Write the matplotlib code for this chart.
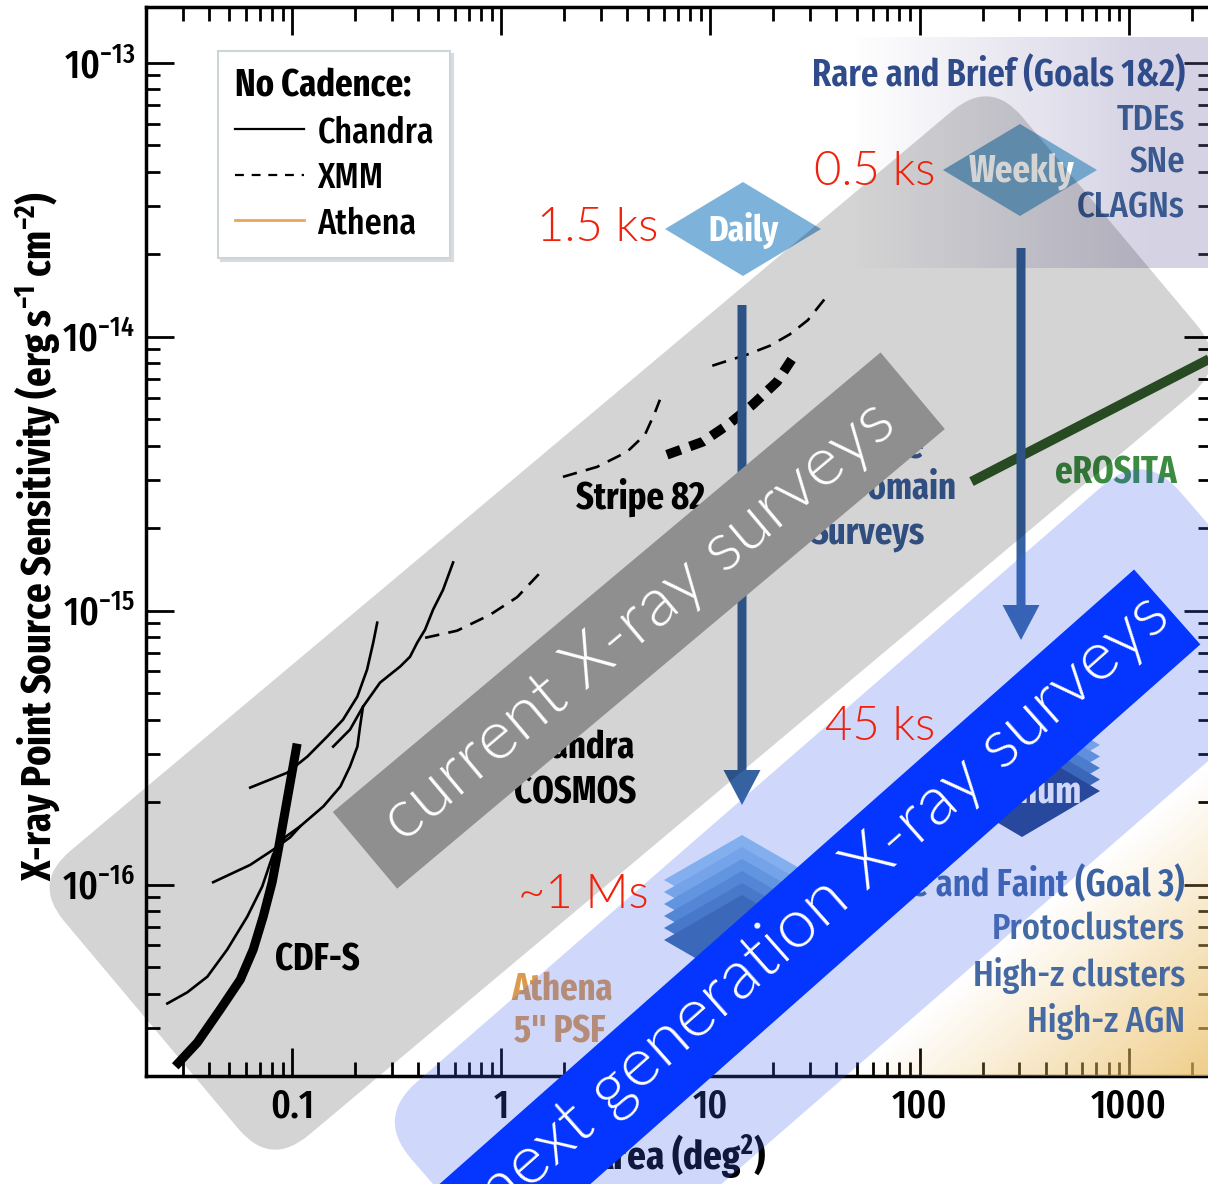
import numpy as np
import matplotlib
matplotlib.use('Agg')
import matplotlib.pyplot as plt
from matplotlib.patches import FancyBboxPatch, Polygon
from matplotlib.lines import Line2D
from matplotlib.transforms import Affine2D

COND = ['Fira Sans Extra Condensed', 'DejaVu Sans']
LIGHT = ['Lato', 'DejaVu Sans']

plt.rcParams['font.family'] = COND
plt.rcParams['mathtext.fontset'] = 'custom'
plt.rcParams['mathtext.rm'] = 'Fira Sans Extra Condensed:medium'
plt.rcParams['mathtext.it'] = 'Fira Sans Extra Condensed:italic:medium'
plt.rcParams['mathtext.bf'] = 'Fira Sans Extra Condensed:bold'

# ---- survey curves (area in deg^2, flux limit in erg/s/cm^2) ----
chandra_1_area = [0.0253, 0.0315, 0.0393, 0.0489, 0.0610, 0.0719, 0.0811, 0.0926, 0.109, 0.141, 0.170,
                  0.189, 0.205, 0.211, 0.218, 0.263, 0.328, 0.366, 0.396, 0.432, 0.472, 0.526, 0.588]
chandra_1_flux = [3.68e-17, 4.04e-17, 4.61e-17, 5.79e-17, 7.64e-17, 9.84e-17, 1.29e-16, 1.49e-16, 1.63e-16,
                  1.93e-16, 2.28e-16, 2.70e-16, 3.19e-16, 3.77e-16, 4.46e-16, 5.46e-16, 6.25e-16, 6.79e-16,
                  7.64e-16, 8.53e-16, 1.01e-15, 1.19e-15, 1.50e-15]
chandra_2_area = [0.0419, 0.063, 0.0811, 0.098, 0.109]
chandra_2_flux = [1.02e-16, 1.18e-16, 1.34e-16, 1.49e-16, 1.63e-16]
chandra_3_area = [0.063, 0.0946, 0.118, 0.147, 0.175, 0.205, 0.228, 0.244, 0.255]
chandra_3_flux = [2.26e-16, 2.56e-16, 2.93e-16, 3.47e-16, 4.00e-16, 4.86e-16, 6.09e-16, 7.64e-16, 9.04e-16]
chandra_4_area = [0.157, 0.189, 0.218]
chandra_4_flux = [3.19e-16, 3.68e-16, 4.46e-16]
cdfs_area = [0.0276, 0.0352, 0.0453, 0.0565, 0.0651, 0.0727, 0.0802, 0.0858, 0.0946, 0.1056]
cdfs_flux = [2.17e-17, 2.65e-17, 3.50e-17, 4.50e-17, 5.79e-17, 7.64e-17, 1.02e-16, 1.34e-16, 2.04e-16, 3.27e-16]

xmm_1_area = [0.432, 0.614, 0.883, 1.19, 1.58]
xmm_1_flux = [7.96e-16, 8.45e-16, 9.66e-16, 1.12e-15, 1.41e-15]
xmm_2_area = [1.97, 2.87, 3.99, 4.86, 5.42, 5.73]
xmm_2_flux = [3.08e-15, 3.35e-15, 3.80e-15, 4.39e-15, 5.28e-15, 5.89e-15]
xmm_3_area = [10.2, 11.7, 14.9, 19.2, 23.9, 29.2, 37.2]
xmm_3_flux = [7.84e-15, 8.11e-15, 8.60e-15, 9.27e-15, 1.02e-14, 1.15e-14, 1.45e-14]
stripe82_area = [6.19, 9.20, 12.1, 15.9, 20.8, 25.3]
stripe82_flux = [3.71e-15, 4.14e-15, 4.77e-15, 5.65e-15, 6.85e-15, 8.60e-15]

erosita_area = [177, 2500]
erosita_flux = [2.96e-15, 8.4e-15]

x_ticks = [0.1, 1, 10, 100, 1000]
x_tick_labels = ['0.1', '1', '10', '100', '1000']
y_ticks = [1e-16, 1e-15, 1e-14, 1e-13]
y_tick_labels = ['10$^{-16}$', '10$^{-15}$', '10$^{-14}$', '10$^{-13}$']

legend_labels = ['Chandra', 'XMM', 'Athena']

rare_brief = ['Rare and Brief (Goals 1&2)', 'TDEs', 'SNe', 'CLAGNs']
rare_faint = ['Rare and Faint (Goal 3)', 'Protoclusters', 'High-z clusters', 'High-z AGN']
exposures = ['1.5 ks', '0.5 ks', '45 ks', '~1 Ms']

W, H = 1208, 1184
fig = plt.figure(figsize=(W / 100, H / 100), dpi=100)
ax = fig.add_axes([146 / W, 1 - 1076 / H, (1212 - 146) / W, (1076 - 7) / H])

ax.plot(cdfs_area, cdfs_flux, color='black', lw=6.5, solid_capstyle='butt')
for a, f in [(chandra_1_area, chandra_1_flux), (chandra_2_area, chandra_2_flux),
             (chandra_3_area, chandra_3_flux), (chandra_4_area, chandra_4_flux)]:
    ax.plot(a, f, color='black', lw=1.9)
for a, f in [(xmm_1_area, xmm_1_flux), (xmm_2_area, xmm_2_flux), (xmm_3_area, xmm_3_flux)]:
    ax.plot(a, f, color='black', lw=1.9, dashes=(5.5, 3.5), dash_capstyle='butt')
ax.plot(stripe82_area, stripe82_flux, color='black', lw=7, dashes=(1.5, 1.0), dash_capstyle='butt')
ax.plot(erosita_area, erosita_flux, color='#2f5a2b', lw=7, solid_capstyle='butt')

ax.set_xscale('log')
ax.set_yscale('log')
ax.set_xlim(0.02, 2500)
ax.set_ylim(2e-17, 1.6e-13)
ax.set_xticks(x_ticks, x_tick_labels, fontsize=29, fontweight='medium')
ax.set_yticks(y_ticks, y_tick_labels, fontsize=29, fontweight='medium')
ax.xaxis.set_minor_formatter(matplotlib.ticker.NullFormatter())
ax.yaxis.set_minor_formatter(matplotlib.ticker.NullFormatter())
ax.tick_params(which='both', direction='in', top=True, right=True, width=2)
ax.tick_params(which='major', length=20, pad=8)
ax.tick_params(which='minor', length=10)
for sp in ax.spines.values():
    sp.set_linewidth(2.5)

ax.set_xlabel('Area (deg$^{\\mathbf{2}}$)', fontsize=29, fontweight='bold')
ax.xaxis.set_label_coords(0.5, -0.052)
ax.set_ylabel('X-ray Point Source Sensitivity (erg s$^{\\mathbf{-1}}$ cm$^{\\mathbf{-2}}$)',
              fontsize=30, fontweight='bold')
ax.yaxis.set_label_coords(-0.079, 0.505)

handles = [Line2D([], [], color='black', lw=1.6),
           Line2D([], [], color='black', lw=1.6, dashes=(4, 3.5)),
           Line2D([], [], color='#e9a65c', lw=2)]
leg = ax.legend(handles, legend_labels, title='No Cadence:', loc='upper left',
                bbox_to_anchor=(218 / W, 1 - 51 / H), bbox_transform=fig.transFigure, borderaxespad=0,
                prop={'family': COND, 'weight': 'medium', 'size': 26.5},
                title_fontproperties={'family': COND, 'weight': 'bold', 'size': 27},
                alignment='left', handlelength=1.9, handletextpad=0.35, labelspacing=0.27,
                borderpad=0.45, frameon=True, fancybox=False, framealpha=1, edgecolor='#cdd5d9',
                shadow={'color': '#d8dcdf', 'alpha': 1})
leg.get_frame().set_linewidth(1.5)

# ---- overlay in figure pixels (y down) ----
ov = fig.add_axes([0, 0, 1, 1], zorder=3)
ov.axis('off')


def dn(d, n, ang):
    c, s = np.cos(np.radians(ang)), np.sin(np.radians(ang))
    return d * c + n * s, -d * s + n * c


def band(d0, d1, n0, n1, ang, r, **kw):
    tr = Affine2D().rotate_deg(-ang) + ov.transData
    style = 'round,pad=0,rounding_size=%g' % r if r else 'square,pad=0'
    ov.add_patch(FancyBboxPatch((d0, n0), d1 - d0, n1 - n0, boxstyle=style, transform=tr, **kw))


def diamond(cx, cy, hw, hh, color, z):
    ov.add_patch(Polygon([(cx - hw, cy), (cx, cy - hh), (cx + hw, cy), (cx, cy + hh)],
                         closed=True, facecolor=color, edgecolor='none', zorder=z))


# lavender box behind the "rare and brief" list
gx = np.linspace(800, 1212, 200)
lav = np.zeros((2, gx.size, 4))
lav[..., 0], lav[..., 1], lav[..., 2] = 0.45, 0.42, 0.65
lav[..., 3] = 0.30 * np.clip((gx - 850) / 300, 0, 1)
ov.imshow(lav, extent=(800, 1212, 268, 37), aspect='auto', zorder=1, interpolation='bilinear')

# yellow glow bottom right
yx, yy = np.meshgrid(np.linspace(600, 1212, 160), np.linspace(650, 1076, 120))
nn = 0.6561 * yx + 0.7547 * yy
yel = np.zeros(yx.shape + (4,))
yel[..., 0], yel[..., 1], yel[..., 2] = 0.92, 0.74, 0.38
yel[..., 3] = 0.72 * np.clip((nn - 1372) / 230, 0, 1)
ov.imshow(yel, extent=(600, 1212, 1076, 650), aspect='auto', zorder=1, interpolation='bilinear')

# cadence arrows
ov.arrow(742, 305, 0, 500, width=9, head_width=37, head_length=35, length_includes_head=True,
         color='#3563a2', lw=0, zorder=2)
ov.arrow(1021, 248, 0, 392, width=9, head_width=37, head_length=35, length_includes_head=True,
         color='#3563a2', lw=0, zorder=2)

diamond(743, 229, 78, 47, '#7db3db', 3)
diamond(1020, 170, 77, 46, '#74a6cc', 3)
ov.text(743, 230, 'Daily', color='white', fontsize=26, fontweight='bold', ha='center', va='center', zorder=4)
ov.text(1022, 172, 'Weekly', color='white', fontsize=27, fontweight='bold', ha='center', va='center', zorder=4)

deep_colors = ['#9cc8ee', '#86b8e6', '#6ea5da', '#5a92cc', '#4a7fbc', '#3b6aa6']
for i, c in enumerate(deep_colors):
    diamond(742, 880 + 12 * i, 78, 45, c, 3)
medium_colors = ['#86b6e4', '#6a9ed6', '#4f84c2', '#3a68a8', '#1f3f80']
for i, c in enumerate(medium_colors):
    diamond(1022, 745 + 11.5 * i, 78, 46, c, 3)
ov.text(1024, 792, 'Medium', color='white', fontsize=27, fontweight='bold', ha='center', va='center', zorder=4)

# labels of the original figure
lab = dict(fontsize=27, fontweight='bold', va='center', zorder=4)
ov.text(576, 497, 'Stripe 82', color='black', ha='left', **lab)
ov.text(575, 748, 'Chandra', color='black', ha='center', **lab)
ov.text(575, 793, 'COSMOS', color='black', ha='center', **lab)
ov.text(317, 960, 'CDF-S', color='black', ha='center', **lab)
ov.text(511, 990, 'Athena', color='#dc9a4e', ha='left', **lab)
ov.text(514, 1032, '5" PSF', color='#dc9a4e', ha='left', **lab)
ov.text(1116, 473, 'eROSITA', color='#3b8b41', ha='center', **lab)
ov.text(890, 447, 'Time', color='#3a5e9a', ha='center', **lab)
ov.text(902, 488, 'Domain', color='#3a5e9a', ha='center', **lab)
ov.text(868, 533, 'Surveys', color='#3a5e9a', ha='center', **lab)

for i, (t, y) in enumerate(zip(rare_brief, [75, 120, 163, 208])):
    ov.text(1185, y, t, color='#2f4b8a' if i == 0 else '#39598f', fontsize=27,
            fontweight='semibold' if i == 0 else 'medium', ha='right', va='center', zorder=4)
for i, (t, y) in enumerate(zip(rare_faint, [885, 930, 975, 1022])):
    ov.text(1185, y, t, color='#3b63a3' if i == 0 else '#4569a3', fontsize=27,
            fontweight='semibold' if i == 0 else 'medium', ha='right', va='center', zorder=4)

# "current" band
band(-543, 708, 697, 1068, 40, 50, facecolor='black', alpha=0.17, edgecolor='none', zorder=10)
band(-267, 448, 836, 936, 40, 0, facecolor='#8f8f8f', edgecolor='none', zorder=11)
x, y = dn(90, 886, 40)
ov.text(x, y, 'current X-ray surveys', color='white', family=LIGHT, fontweight=300, fontsize=50,
        rotation=40, rotation_mode='anchor', ha='center', va='center', zorder=12)

# "next generation" band
band(-450, 568, 1090, 1367, 41, 55, facecolor=(0.25, 0.40, 0.95), alpha=0.25, edgecolor='none', zorder=13)
band(-900, 472, 1178, 1278, 41.5, 0, facecolor='#0536ff', edgecolor='none', zorder=14)
x, y = dn(18, 1224, 41.5)
ov.text(x, y, 'next generation X-ray surveys', color='white', family=LIGHT, fontweight=300,
        fontsize=50, rotation=41.5, rotation_mode='anchor', ha='center', va='center', zorder=15)

# exposure times
red = dict(color='#f0200a', family=LIGHT, fontweight=300, fontsize=34, ha='center', va='baseline', zorder=16)
for t, (x, y) in zip(exposures, [(598, 241), (875, 185), (880, 740), (583, 908)]):
    ov.text(x, y, t, **red)

ov.set_xlim(0, W)
ov.set_ylim(H, 0)

fig.savefig('out.png', dpi=100)
